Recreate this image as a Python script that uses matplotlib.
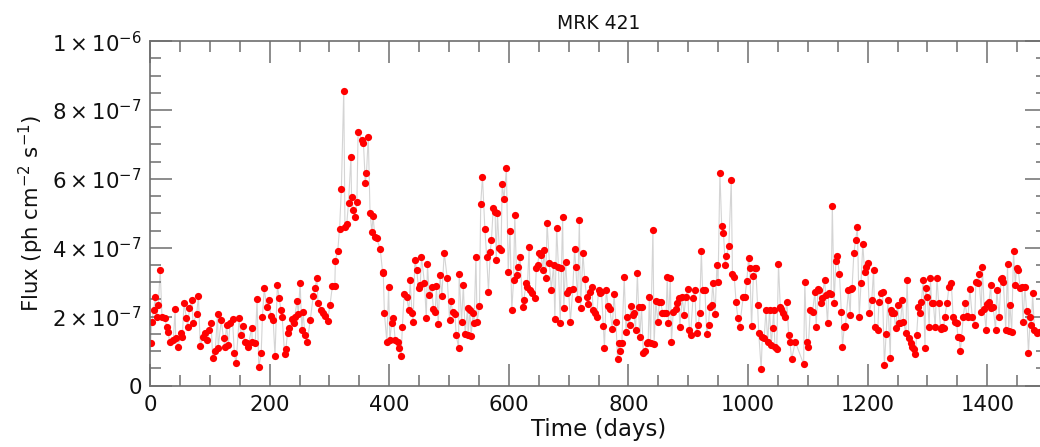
import numpy as np
import matplotlib
matplotlib.use("Agg")
import matplotlib.pyplot as plt
from matplotlib.ticker import MultipleLocator, FuncFormatter

plt.rcParams["font.family"] = ["DejaVu Sans"]
plt.rcParams["mathtext.fontset"] = "dejavusans"
plt.rcParams["mathtext.default"] = "regular"

# MRK 421 light curve: time (days) and flux (units of 1e-7 ph cm^-2 s^-1)
days_p1 = [1, 3, 6, 9, 11, 14, 17, 20, 25, 28,
           30, 33, 39, 42, 43, 47, 52, 54, 57, 61,
           63, 66, 70, 72, 78, 81, 84, 89, 92, 96,
           99, 102, 105, 109, 113, 114, 119, 123, 125, 128,
           131, 134, 138, 141, 144, 149, 152, 156, 159, 162,
           164, 170, 171, 176, 179, 182, 186, 188, 191, 195,
           199, 202, 206, 209, 213, 216, 219, 221, 225, 227,
           230, 233, 237, 240, 242, 246, 248, 251, 254, 256,
           259, 263, 268, 273, 276, 279, 281, 286, 290, 293,
           297, 301, 305, 309, 310, 314, 317, 320, 324, 326,
           329, 332, 336, 337, 340, 343, 346, 348, 354, 357,
           360, 362, 365, 368, 371, 373, 376, 379, 385, 389,
           390, 392, 396, 399, 401, 404, 407, 410, 414, 416,
           420, 422, 425, 429, 433, 435, 438, 440, 443, 446,
           449, 452, 454, 459, 462, 464, 467, 471, 474, 477,
           479, 482, 485, 488, 492]
flux_p1 = [1.23, 1.86, 2.19, 2.58, 2.00, 2.34, 3.37, 2.00, 1.95, 1.71,
           1.57, 1.28, 1.32, 2.21, 1.37, 1.13, 1.52, 1.42, 2.41, 1.95,
           1.71, 2.24, 2.48, 1.81, 2.07, 2.60, 1.15, 1.42, 1.52, 1.32,
           1.61, 1.81, 0.79, 1.00, 2.08, 1.08, 1.90, 1.37, 1.13, 1.76,
           1.18, 1.81, 1.92, 0.94, 0.65, 1.95, 1.47, 1.73, 1.28, 1.23,
           1.13, 1.68, 1.28, 1.23, 2.50, 0.53, 0.96, 2.00, 2.82, 2.27,
           2.48, 2.02, 1.90, 0.86, 2.92, 2.55, 2.18, 2.00, 0.92, 1.05,
           1.52, 1.66, 1.92, 1.81, 2.00, 2.46, 2.08, 2.99, 1.61, 2.15,
           1.47, 1.28, 1.90, 2.61, 2.82, 3.11, 2.39, 2.19, 2.10, 2.02,
           1.88, 2.34, 2.89, 2.89, 3.63, 3.92, 4.56, 5.70, 8.56, 4.61,
           4.69, 5.31, 6.63, 5.48, 5.10, 4.90, 5.34, 7.37, 7.13, 7.03,
           5.89, 6.16, 7.23, 5.00, 4.47, 4.92, 4.32, 4.27, 3.97, 3.28,
           3.30, 2.10, 1.28, 2.85, 1.31, 1.81, 1.95, 1.32, 1.28, 1.10,
           0.86, 1.71, 2.65, 2.58, 2.18, 3.07, 2.12, 1.86, 3.65, 3.36,
           2.82, 2.92, 3.74, 2.97, 1.95, 3.53, 2.63, 2.87, 2.21, 2.15,
           2.89, 1.79, 3.21, 2.60, 3.86]

days_p2 = [497, 501, 503, 506, 510, 512, 516, 517, 521, 524,
           527, 531, 532, 535, 537, 540, 542, 545, 547, 551,
           553, 556, 560, 563, 566, 569, 571, 574, 577, 579,
           581, 584, 587, 589, 592, 596, 599, 602, 605, 608,
           610, 613, 616, 619, 623, 625, 629, 631, 634, 635,
           639, 644, 646, 648, 651, 654, 657, 659, 662, 664,
           668, 671, 675, 677, 680, 683, 686, 688, 690, 692,
           695, 698, 700, 703, 707, 710, 712, 715, 718, 720,
           724, 727, 730, 733, 736, 739, 741, 744, 747, 750,
           753, 755, 758, 760, 763, 766, 769, 773, 776, 779,
           782, 784, 786, 789, 793, 796, 798, 802, 804, 807,
           809, 812, 815, 817, 819, 822, 825, 828, 831, 833,
           835, 837, 841, 843, 846, 849, 852, 854, 857, 860,
           863, 865, 867, 870, 872, 875, 879, 881, 884, 886,
           890, 893, 896, 899, 902, 904, 908, 911, 914, 917,
           919, 922, 924, 928, 931, 934, 936, 939, 941, 945,
           948, 950, 953, 956, 959, 962, 964, 968, 972, 974,
           977, 980, 983, 986]
flux_p2 = [3.13, 1.90, 2.47, 2.15, 2.08, 1.47, 1.10, 3.23, 1.86, 2.91,
           1.49, 2.26, 1.47, 2.19, 1.44, 2.10, 1.81, 3.72, 1.84, 2.32,
           5.26, 6.06, 4.54, 3.74, 2.73, 3.89, 4.23, 5.15, 5.05, 3.65,
           5.00, 3.98, 3.94, 5.84, 5.42, 6.31, 3.31, 4.49, 2.19, 3.07,
           4.95, 3.21, 3.45, 3.72, 2.29, 2.48, 2.97, 2.87, 4.03, 2.78,
           2.68, 2.53, 3.40, 3.50, 3.84, 3.79, 3.36, 3.94, 3.11, 4.73,
           3.55, 2.78, 3.50, 1.93, 4.57, 3.45, 1.81, 3.40, 4.90, 2.24,
           3.60, 2.68, 2.78, 1.86, 2.79, 3.96, 3.45, 2.50, 4.81, 2.24,
           3.84, 3.08, 2.58, 2.36, 2.73, 2.87, 2.18, 2.10, 2.00, 2.78,
           2.68, 2.73, 1.73, 1.08, 2.78, 2.31, 2.22, 1.64, 2.66, 1.86,
           0.76, 1.25, 0.99, 1.25, 3.16, 1.57, 2.00, 1.76, 2.31, 2.05,
           2.12, 1.61, 3.26, 2.29, 1.42, 2.27, 0.94, 1.01, 1.25, 1.28,
           2.58, 1.23, 4.52, 1.20, 2.47, 1.86, 2.44, 2.44, 2.12, 2.12,
           2.10, 3.14, 1.81, 3.11, 1.26, 2.15, 2.22, 2.41, 2.53, 1.71,
           2.58, 2.05, 2.58, 2.79, 1.61, 1.47, 2.53, 2.78, 1.54, 1.76,
           2.12, 3.92, 2.78, 2.78, 1.50, 1.76, 2.29, 2.34, 2.97, 2.08,
           3.50, 3.02, 6.18, 4.63, 4.42, 3.50, 3.76, 4.05, 5.97, 3.24,
           3.16, 2.44, 1.95, 1.71]

days_p3 = [992, 995, 998, 1001, 1003, 1006, 1009, 1011, 1013, 1016,
           1018, 1022, 1024, 1027, 1030, 1033, 1036, 1039, 1041, 1043,
           1045, 1048, 1051, 1054, 1056, 1059, 1062, 1065, 1068, 1070,
           1073, 1079, 1093, 1095, 1098, 1101, 1104, 1108, 1112, 1114,
           1117, 1119, 1122, 1124, 1128, 1130, 1133, 1135, 1139, 1141,
           1144, 1147, 1149, 1153, 1156, 1158, 1161, 1163, 1168, 1171,
           1172, 1174, 1177, 1180, 1183, 1186, 1189, 1192, 1195, 1197,
           1200, 1203, 1207, 1210, 1212, 1217, 1219, 1222, 1225, 1228,
           1231, 1234, 1238, 1239, 1241, 1244, 1247, 1250, 1253, 1255,
           1258, 1260, 1264, 1266, 1269, 1273, 1275, 1278, 1280, 1282,
           1285, 1288, 1290, 1293, 1296, 1297, 1300, 1303, 1305, 1307,
           1310, 1313, 1316, 1319, 1322, 1324, 1327, 1329, 1333, 1336,
           1340, 1343, 1346, 1349, 1351, 1353, 1355, 1357, 1360, 1363,
           1366, 1368, 1371, 1375, 1379, 1381, 1384, 1386, 1390, 1392,
           1395, 1398, 1400, 1403, 1406, 1407, 1410, 1414, 1416, 1420,
           1423, 1424, 1427, 1431, 1434, 1436, 1438, 1441, 1444, 1447,
           1449, 1452, 1455, 1458, 1460, 1463, 1466, 1469, 1472, 1474,
           1476, 1479, 1483, 1487]
flux_p3 = [2.58, 2.58, 3.05, 3.69, 3.40, 1.73, 3.18, 3.40, 3.40, 2.34,
           1.52, 0.48, 1.42, 1.37, 2.19, 1.28, 2.19, 1.18, 1.66, 2.19,
           1.11, 1.05, 3.52, 2.29, 2.22, 2.10, 2.00, 2.44, 1.47, 1.28,
           0.76, 1.28, 0.62, 3.02, 1.28, 1.13, 2.18, 2.15, 2.73, 1.71,
           2.79, 2.78, 2.39, 2.53, 3.07, 2.63, 1.81, 2.68, 2.66, 5.22,
           2.39, 3.62, 3.76, 3.24, 2.15, 1.13, 1.71, 1.73, 2.78, 2.05,
           2.79, 2.82, 3.84, 4.23, 4.59, 1.98, 2.99, 4.10, 3.31, 3.45,
           3.55, 2.12, 2.48, 3.36, 1.71, 1.61, 2.44, 2.68, 2.73, 0.60,
           1.50, 2.48, 0.79, 2.19, 2.12, 2.10, 1.66, 2.34, 1.83, 1.81,
           2.48, 1.86, 1.52, 3.07, 1.37, 1.25, 1.13, 1.05, 0.92, 1.47,
           2.29, 2.10, 2.44, 3.07, 1.08, 2.82, 2.58, 1.71, 3.11, 2.39,
           2.39, 1.71, 3.11, 2.39, 1.64, 1.71, 1.66, 2.00, 2.41, 2.87,
           2.97, 2.00, 1.86, 1.81, 1.42, 1.40, 0.99, 1.37, 2.00, 2.41,
           2.03, 2.00, 2.79, 2.00, 1.76, 3.02, 2.97, 3.24, 2.15, 3.45,
           2.22, 1.61, 2.37, 2.44, 2.92, 2.26, 2.27, 1.61, 2.78, 2.00,
           3.08, 3.11, 3.02, 1.61, 3.53, 1.58, 2.34, 1.56, 3.91, 2.92,
           3.40, 3.36, 2.82, 2.87, 1.86, 2.87, 2.16, 0.95, 2.00, 1.76,
           2.68, 1.61, 1.52, 1.56]

time = np.array(days_p1 + days_p2 + days_p3, dtype=float)
flux = np.array(flux_p1 + flux_p2 + flux_p3) * 1e-7

W, H = 1040, 447
fig = plt.figure(figsize=(W / 100, H / 100), dpi=100)
# axes frame runs slightly past the right edge of the canvas
ax = fig.add_axes([150 / W, (H - 385.6) / H, 897 / W, (385.6 - 41.1) / H])

ax.plot(time, flux, color="#d4d4d4", lw=0.8, zorder=1)
ax.plot(time, flux, ls="none", marker="o", ms=5.2, mfc="#ff0000",
        mec="#ff0000", mew=0, zorder=2)

ax.set_xlim(0, 1500)
ax.set_ylim(0, 1e-6)

ax.xaxis.set_major_locator(MultipleLocator(200))
ax.xaxis.set_minor_locator(MultipleLocator(50))
ax.yaxis.set_major_locator(MultipleLocator(2e-7))
ax.yaxis.set_minor_locator(MultipleLocator(5e-8))


def sci_label(v, pos):
    if abs(v) < 1e-12:
        return "0"
    exp = int(np.floor(np.log10(abs(v)) + 1e-9))
    mant = v / 10 ** exp
    return r"$%d\times10^{%d}$" % (round(mant), exp)


ax.yaxis.set_major_formatter(FuncFormatter(sci_label))

axis_grey = "#6e6e6e"
for sp in ax.spines.values():
    sp.set_color(axis_grey)
    sp.set_linewidth(1.2)
ax.tick_params(which="both", direction="in", top=True, right=True,
               color=axis_grey, width=1.1, labelsize=15.3, labelcolor="#111111")
ax.tick_params(which="major", length=16)
ax.tick_params(which="minor", length=8)
ax.tick_params(axis="x", pad=7)
ax.tick_params(axis="y", pad=6)

ax.set_title("MRK 421", fontsize=13.5, pad=9, color="#111111")
ax.set_xlabel("Time (days)", fontsize=16.5, labelpad=2, color="#111111")
ax.set_ylabel(r"Flux (ph cm$^{-2}$ s$^{-1}$)", fontsize=15.3, labelpad=4,
              color="#111111")

fig.savefig("out.png", dpi=100)
